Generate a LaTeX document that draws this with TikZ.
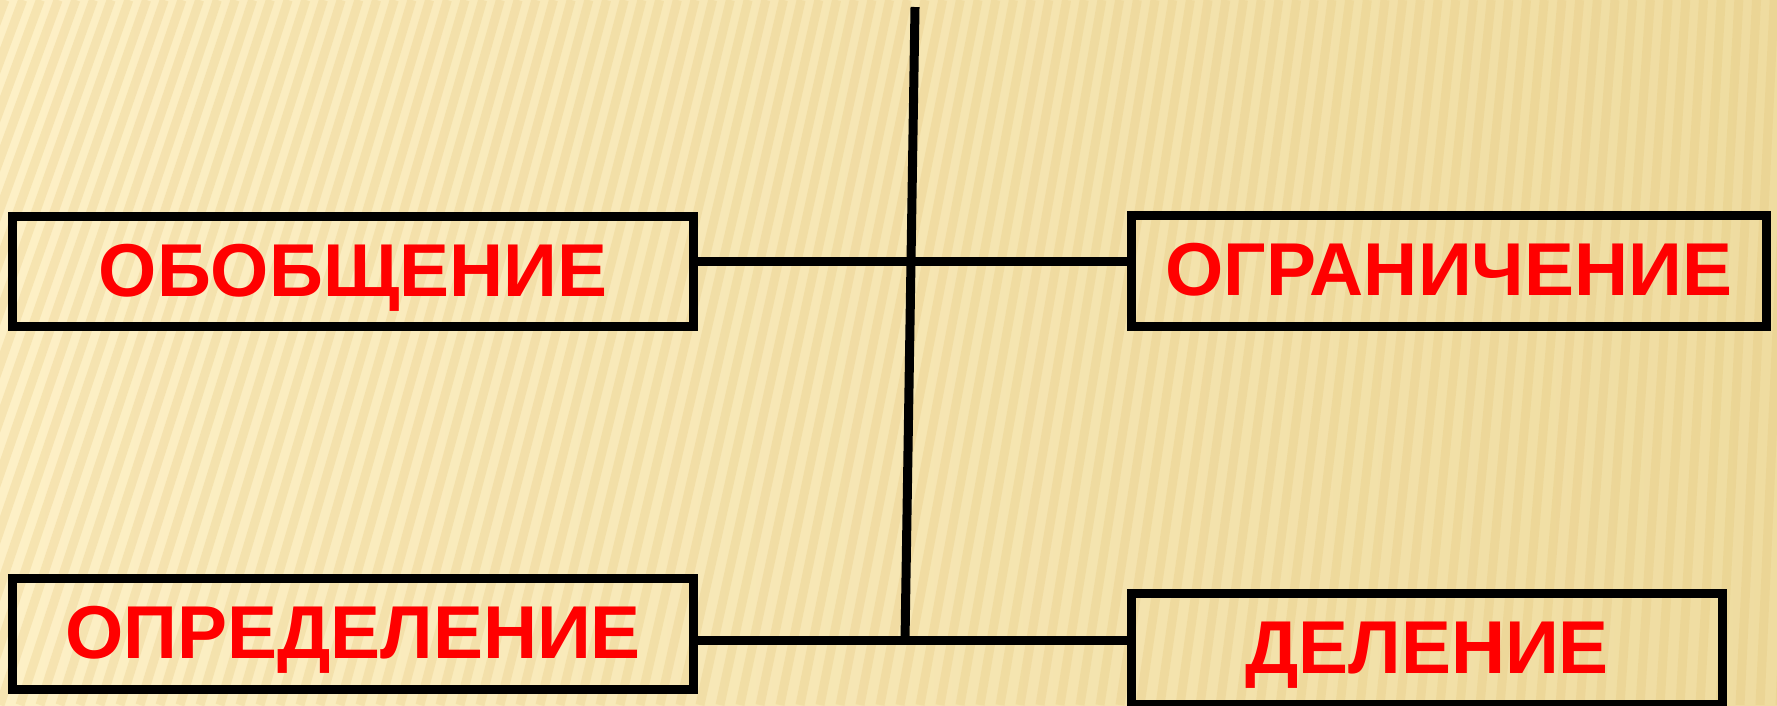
\documentclass[tikz,border=0pt]{standalone}
\usepackage{fontspec}
\setmainfont{Liberation Sans}
\usetikzlibrary{positioning}
\definecolor{paper}{HTML}{FDF0C6}
\definecolor{paperdark}{HTML}{EFDCA0}
\definecolor{streak}{HTML}{E3C275}
\definecolor{termred}{HTML}{FF0000}
\tikzset{
  termbox/.style={draw=black, line width=0.09cm, inner sep=0pt, minimum height=1.1cm,
    text height=15.3pt, text depth=1.3pt, text=termred,
    font=\bfseries\fontsize{21.3pt}{24pt}\selectfont},
  link/.style={draw=black, line width=0.09cm},
}

\begin{document}
\begin{tikzpicture}[x=0.01cm,y=-0.01cm]
  \useasboundingbox (0,0) rectangle (1777,705);
  % striped paper
  \begin{scope}
    \clip (0,0) rectangle (1777,705);
    \shade[left color=paper, right color=paperdark] (0,0) rectangle (1777,705);
    \foreach \b in {-300,-280,...,1800}
      {
        \pgfmathsetmacro{\tx}{\b + 235 - 0.1154*\b}
        \draw[streak, line width=0.09cm, opacity=0.25] (\b,705) -- (\tx,0);
      }
  \end{scope}
  % the four terms
  \node[termbox, minimum width=6.8cm] (obob) at (353,271.5) {ОБОБЩЕНИЕ};
  \node[termbox, minimum width=6.34cm] (ogr) at (1449,271) {ОГРАНИЧЕНИЕ};
  \node[termbox, minimum width=6.8cm] (opr) at (353,634) {ОПРЕДЕЛЕНИЕ};
  \node[termbox, minimum width=5.9cm] (del) at (1427,649) {ДЕЛЕНИЕ};
  % axis and links
  \coordinate (axtop) at (915,7);
  \coordinate (axbot) at (905,640);
  \coordinate (cross) at (911,261);
  \draw[link] (axtop) -- (axbot);
  \draw[link] (obob.east |- cross) -- (ogr.west |- cross);
  \draw[link] (opr.east |- axbot) -- (del.west |- axbot);
\end{tikzpicture}
\end{document}
